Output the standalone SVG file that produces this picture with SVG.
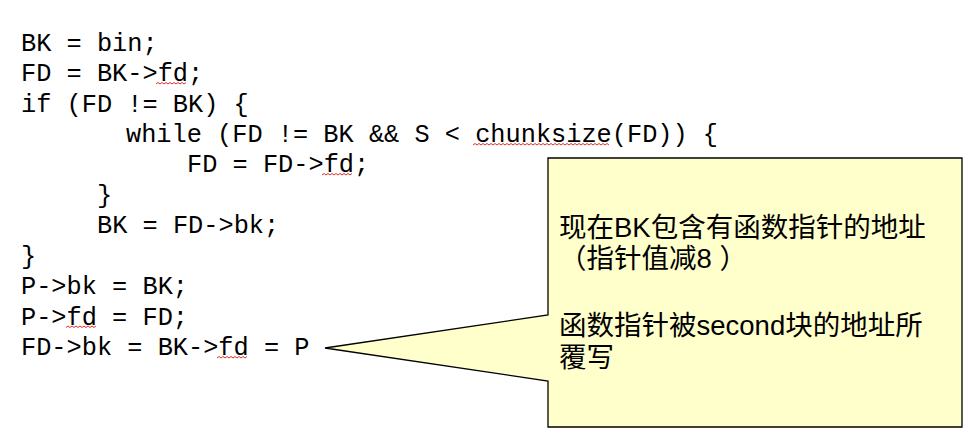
<svg xmlns="http://www.w3.org/2000/svg" width="968" height="435" viewBox="0 0 968 435">
<style>
.code{font-family:"Liberation Mono","Courier New",monospace;font-size:25.3px;fill:#000;}
.note{font-family:"Liberation Sans","Noto Sans CJK SC",sans-serif;font-size:27.5px;fill:#000;}
.sq{fill:none;stroke:#e0302a;stroke-width:1;}
</style>
<rect width="968" height="435" fill="#ffffff"/>
<g id="code">
<text class="code" x="21" y="50.5">BK = bin;</text>
<text class="code" x="21" y="81">FD = BK-&gt;fd;</text>
<text class="code" x="21" y="111.5">if (FD != BK) {</text>
<text class="code" x="126" y="142">while (FD != BK &amp;&amp; S &lt; chunksize(FD)) {</text>
<text class="code" x="187" y="172">FD = FD-&gt;fd;</text>
<text class="code" x="97" y="202.5">}</text>
<text class="code" x="97" y="233">BK = FD-&gt;bk;</text>
<text class="code" x="21" y="263.5">}</text>
<text class="code" x="21" y="294">P-&gt;bk = BK;</text>
<text class="code" x="21" y="324.5">P-&gt;fd = FD;</text>
<text class="code" x="21" y="355">FD-&gt;bk = BK-&gt;fd = P</text>
</g>
<g id="spellmarks">
<path class="sq" d="M156,84 l2,-1.5 l2,1.5 l2,-1.5 l2,1.5 l2,-1.5 l2,1.5 l2,-1.5 l2,1.5 l2,-1.5 l2,1.5 l2,-1.5 l2,1.5 l2,-1.5 l2,1.5 l2,-1.5"/>
<path class="sq" d="M322,175 l2,-1.5 l2,1.5 l2,-1.5 l2,1.5 l2,-1.5 l2,1.5 l2,-1.5 l2,1.5 l2,-1.5 l2,1.5 l2,-1.5 l2,1.5 l2,-1.5 l2,1.5 l2,-1.5"/>
<path class="sq" d="M473,145 l2,-1.5 l2,1.5 l2,-1.5 l2,1.5 l2,-1.5 l2,1.5 l2,-1.5 l2,1.5 l2,-1.5 l2,1.5 l2,-1.5 l2,1.5 l2,-1.5 l2,1.5 l2,-1.5 l2,1.5 l2,-1.5 l2,1.5 l2,-1.5 l2,1.5 l2,-1.5 l2,1.5 l2,-1.5 l2,1.5 l2,-1.5 l2,1.5 l2,-1.5 l2,1.5 l2,-1.5 l2,1.5 l2,-1.5 l2,1.5 l2,-1.5 l2,1.5 l2,-1.5 l2,1.5 l2,-1.5 l2,1.5 l2,-1.5 l2,1.5 l2,-1.5 l2,1.5 l2,-1.5 l2,1.5 l2,-1.5 l2,1.5 l2,-1.5 l2,1.5 l2,-1.5 l2,1.5 l2,-1.5 l2,1.5 l2,-1.5 l2,1.5 l2,-1.5 l2,1.5 l2,-1.5 l2,1.5 l2,-1.5 l2,1.5 l2,-1.5 l2,1.5 l2,-1.5 l2,1.5 l2,-1.5 l2,1.5 l2,-1.5 l2,1.5"/>
<path class="sq" d="M66,327.5 l2,-1.5 l2,1.5 l2,-1.5 l2,1.5 l2,-1.5 l2,1.5 l2,-1.5 l2,1.5 l2,-1.5 l2,1.5 l2,-1.5 l2,1.5 l2,-1.5 l2,1.5 l2,-1.5"/>
<path class="sq" d="M217,358 l2,-1.5 l2,1.5 l2,-1.5 l2,1.5 l2,-1.5 l2,1.5 l2,-1.5 l2,1.5 l2,-1.5 l2,1.5 l2,-1.5 l2,1.5 l2,-1.5 l2,1.5 l2,-1.5"/>
</g>
<g id="callout">
<path d="M548,158 H962 V427 H548 V381 L325,348 L548,315 Z" fill="#ffffcc" stroke="#000" stroke-width="1.3"/>
<text class="note" x="559" y="237">现在BK包含有函数指针的地址</text>
<text class="note" x="559" y="268">（指针值减8 ）</text>
<text class="note" x="559" y="335">函数指针被second块的地址所</text>
<text class="note" x="559" y="367">覆写</text>
</g>
</svg>
